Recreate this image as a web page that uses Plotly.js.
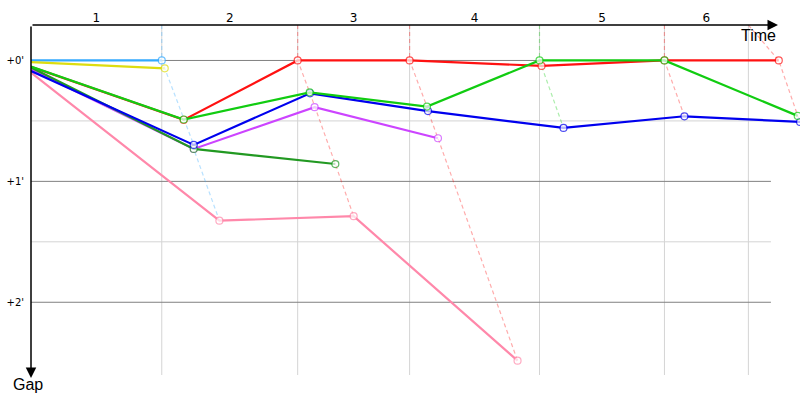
<!DOCTYPE html>
<html>
<head>
<meta charset="utf-8">
<script src="https://cdn.plot.ly/plotly-3.0.1.min.js"></script>
<style>
  html, body { margin: 0; padding: 0; background: #ffffff; }
  #chart { width: 800px; height: 400px; }
</style>
</head>
<body>
<div id="chart"></div>
<script>
// ---- Data (time in seconds since start, gap to leader in seconds) ----
const lapLabels = ['1', '2', '3', '4', '5', '6'];
const lapGridTimes = [179.9, 366.9, 520.9, 699.6, 871.5, 987.0];

const gapTickVals = [0, 60, 120];
const gapTickText = ["+0'", "+1'", "+2'"];
const gapMinorVals = [30, 90];

const carColors = ['#33aaff', '#dddd11', '#ff88aa', '#ff1111', '#cc44ff', '#229922', '#0000ee', '#11cc11'];

const lightblueTime = [0, 179.9];
const lightblueGap  = [0, 0];

const yellowTime = [0, 184.0];
const yellowGap  = [0.8, 3.9];

const pinkTime = [0, 259.2, 443.9, 669.4];
const pinkGap  = [6.0, 79.5, 77.3, 149.0];

const redTime = [0, 210.1, 366.9, 520.9, 702.4, 871.5, 1028.8];
const redGap  = [3.2, 29.5, 0, 0, 2.7, 0, 0];

const purpleTime = [0, 223.9, 390.2, 559.9];
const purpleGap  = [4.5, 43.9, 23.2, 38.6];

const darkgreenTime = [0, 223.9, 418.7];
const darkgreenGap  = [3.5, 43.9, 51.4];

const blueTime = [0, 223.9, 383.9, 546.2, 732.6, 899.0, 1058.1];
const blueGap  = [5.2, 41.9, 16.3, 25.1, 33.5, 27.7, 30.5];

const greenTime = [0, 210.1, 383.4, 544.8, 699.6, 871.5, 1054.9];
const greenGap  = [3.0, 29.3, 15.8, 22.9, 0, 0, 27.5];

// ---- Build ----
const cars = [
  [lightblueTime, lightblueGap],
  [yellowTime, yellowGap],
  [pinkTime, pinkGap],
  [redTime, redGap],
  [purpleTime, purpleGap],
  [darkgreenTime, darkgreenGap],
  [blueTime, blueGap],
  [greenTime, greenGap]
];

const X_RANGE = [0, 1058];
const Y_TOP = -17.6, Y_BOTTOM = 156.1;
const GRID_END = 1018;

function fade(hex, a) {
  const r = parseInt(hex.slice(1, 3), 16), g = parseInt(hex.slice(3, 5), 16), b = parseInt(hex.slice(5, 7), 16);
  return 'rgba(' + r + ',' + g + ',' + b + ',' + a + ')';
}

const traces = [];

// lap lines (dashed), one per lap, through every car's crossing of that lap
lapGridTimes.forEach((gt, i) => {
  const k = i + 1;
  const pts = [];
  cars.forEach((c, ci) => {
    if (c[0].length > k) pts.push({ t: c[0][k], g: c[1][k], ci: ci });
  });
  pts.sort((a, b) => a.g - b.g);
  const leaderColor = carColors[pts[0].ci];
  traces.push({
    type: 'scatter', mode: 'lines',
    x: [gt].concat(pts.map(p => p.t)),
    y: [Y_TOP].concat(pts.map(p => p.g)),
    line: { color: fade(leaderColor, 0.35), width: 1.2, dash: '4px,3px' },
    hoverinfo: 'skip', showlegend: false, cliponaxis: false
  });
});

// car traces
cars.forEach((c, ci) => {
  traces.push({
    type: 'scatter', mode: 'lines+markers',
    x: c[0], y: c[1],
    line: { color: carColors[ci], width: 2.2 },
    marker: {
      symbol: 'circle', color: '#ffffff',
      size: c[0].map((_, j) => j === 0 ? 0 : 7),
      line: { color: carColors[ci], width: 1.2 }
    },
    showlegend: false
  });
});

// tick label positions: middle of each lap interval
const lapStarts = [0].concat(lapGridTimes.slice(0, -1));
const lapMid = lapGridTimes.map((t, i) => (lapStarts[i] + t) / 2);

const shapes = [];
gapMinorVals.forEach(v => shapes.push({
  type: 'line', layer: 'below', xref: 'x', yref: 'y',
  x0: 0, x1: GRID_END, y0: v, y1: v, line: { color: '#d4d4d4', width: 1 }
}));
lapGridTimes.forEach(t => shapes.push({
  type: 'line', layer: 'below', xref: 'x', yref: 'paper',
  x0: t, x1: t, y0: 0, y1: 1, line: { color: '#d4d4d4', width: 1 }
}));
gapTickVals.forEach(v => shapes.push({
  type: 'line', layer: 'below', xref: 'x', yref: 'y',
  x0: 0, x1: GRID_END, y0: v, y1: v, line: { color: '#808080', width: 1 }
}));

const annotations = [
  { xref: 'paper', yref: 'paper', x: 747 / 769, y: 1, ax: -747, ay: 0,
    axref: 'pixel', ayref: 'pixel', text: '', showarrow: true,
    arrowhead: 2, arrowsize: 1.4, arrowwidth: 1.5, arrowcolor: '#000000' },
  { xref: 'paper', yref: 'paper', x: 0, y: -3 / 350, ax: 0, ay: -353,
    axref: 'pixel', ayref: 'pixel', text: '', showarrow: true,
    arrowhead: 2, arrowsize: 1.4, arrowwidth: 1.5, arrowcolor: '#000000' },
  { xref: 'paper', yref: 'paper', x: 747 / 769, y: (375 - 35) / 350,
    xanchor: 'right', yanchor: 'middle', text: 'Time', showarrow: false,
    font: { family: 'Liberation Sans, Arial, sans-serif', size: 16, color: '#000000' } },
  { xref: 'paper', yref: 'paper', x: -20 / 769, y: (375 - 385) / 350,
    xanchor: 'left', yanchor: 'middle', text: 'Gap', showarrow: false,
    font: { family: 'Liberation Sans, Arial, sans-serif', size: 16, color: '#000000' } }
];

const layout = {
  width: 800, height: 400,
  margin: { l: 31, r: 0, t: 25, b: 25, pad: 0 },
  paper_bgcolor: '#ffffff', plot_bgcolor: '#ffffff',
  showlegend: false,
  font: { family: 'DejaVu Sans, sans-serif', color: '#000000' },
  xaxis: {
    side: 'top', range: X_RANGE, showgrid: false, zeroline: false, showline: false,
    ticks: '', tickvals: lapMid, ticktext: lapLabels,
    tickfont: { size: 12, family: 'DejaVu Sans, sans-serif' }, fixedrange: true
  },
  yaxis: {
    range: [Y_BOTTOM, Y_TOP], showgrid: false, zeroline: false, showline: false,
    ticks: '', tickvals: gapTickVals, ticktext: gapTickText, ticklabelstandoff: 6,
    tickfont: { size: 10, family: 'DejaVu Sans, sans-serif' }, fixedrange: true
  },
  shapes: shapes,
  annotations: annotations
};

Plotly.newPlot('chart', traces, layout, { staticPlot: true, displayModeBar: false });
</script>
</body>
</html>
